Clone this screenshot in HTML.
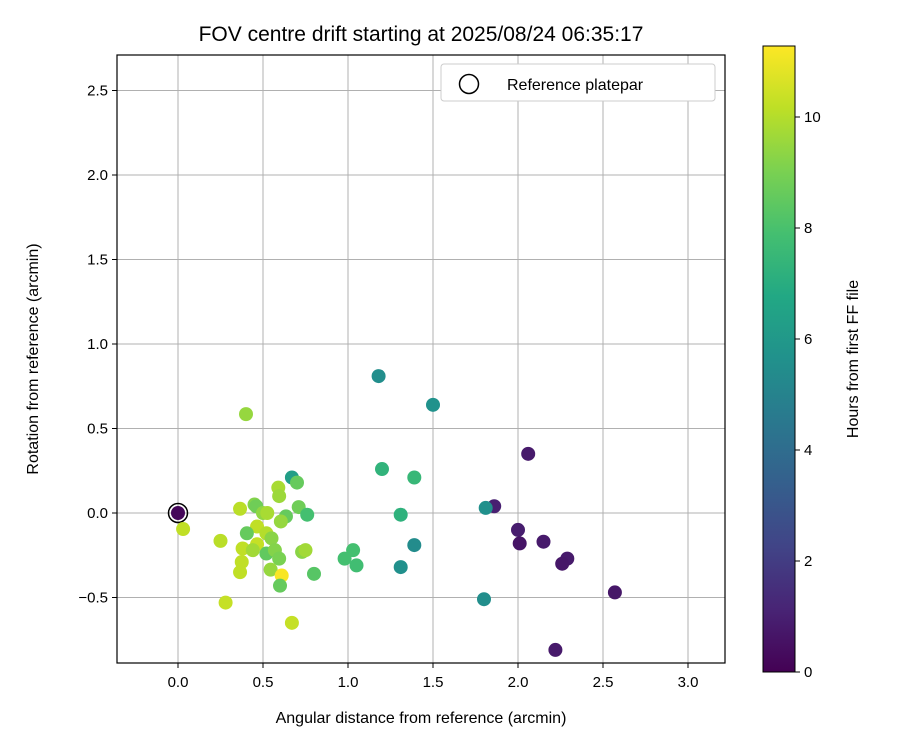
<!DOCTYPE html>
<html><head><meta charset="utf-8"><style>
body{margin:0;background:#fff}
svg text{font-family:"Liberation Sans",sans-serif;fill:#000}
</style></head><body>
<svg id="chart" width="900" height="750" xmlns="http://www.w3.org/2000/svg">
<defs>
<linearGradient id="vir" x1="0" y1="1" x2="0" y2="0">
<stop offset="0" stop-color="#440154"/><stop offset="0.1" stop-color="#482475"/><stop offset="0.2" stop-color="#414487"/><stop offset="0.3" stop-color="#355f8d"/><stop offset="0.4" stop-color="#2a788e"/><stop offset="0.5" stop-color="#21918c"/><stop offset="0.6" stop-color="#22a884"/><stop offset="0.7" stop-color="#44bf70"/><stop offset="0.8" stop-color="#7ad151"/><stop offset="0.9" stop-color="#bddf26"/><stop offset="1" stop-color="#fde725"/>
</linearGradient>
</defs>
<text x="421" y="41" font-size="21" text-anchor="middle">FOV centre drift starting at 2025/08/24 06:35:17</text>
<g id="grid"></g>
<g id="pts"></g>
<rect x="117" y="55" width="608" height="608" fill="none" stroke="#000" stroke-width="1.2"/>
<g id="ticks"></g>
<text x="421" y="723" font-size="16" text-anchor="middle">Angular distance from reference (arcmin)</text>
<text transform="translate(38,359) rotate(-90)" font-size="16" text-anchor="middle">Rotation from reference (arcmin)</text>
<g>
<rect x="441" y="64" width="274" height="37" rx="3" fill="#fff" stroke="#ccc"/>
<circle cx="469" cy="84" r="9.5" fill="none" stroke="#000" stroke-width="1.5"/>
<text x="507" y="90" font-size="16">Reference platepar</text>
</g>
<rect x="763" y="46" width="32" height="626" fill="url(#vir)" stroke="#000" stroke-width="1"/>
<g id="cbticks"></g>
<text transform="translate(858,359) rotate(-90)" font-size="16" text-anchor="middle">Hours from first FF file</text>
</svg>
<script>
const xVals=[1.18,1.50,2.06,1.20,1.39,1.86,1.81,1.31,1.39,2.0,2.01,2.15,1.31,2.29,2.26,1.80,2.57,2.22,1.03,0.98,1.05,
0.03,0.25,0.365,0.45,0.46,0.59,0.595,0.67,0.70,0.50,0.525,0.71,0.76,0.635,0.605,0.465,0.405,0.52,0.55,0.465,0.38,0.44,0.52,0.57,0.595,0.73,0.75,0.375,0.365,0.545,0.61,0.60,0.80,0.28,0.67,0.40,0.0];
const yVals=[0.81,0.64,0.35,0.26,0.21,0.04,0.03,-0.01,-0.19,-0.10,-0.18,-0.17,-0.32,-0.27,-0.30,-0.51,-0.47,-0.81,-0.22,-0.27,-0.31,
-0.095,-0.165,0.025,0.05,0.04,0.15,0.10,0.21,0.18,0.0,0.0,0.035,-0.01,-0.02,-0.05,-0.08,-0.12,-0.12,-0.15,-0.185,-0.21,-0.22,-0.24,-0.22,-0.27,-0.23,-0.22,-0.29,-0.35,-0.335,-0.37,-0.43,-0.36,-0.53,-0.65,0.585,0.0];
const hours=[5.5,5.7,0.8,7.3,7.5,1.0,5.6,7.2,5.4,0.9,0.6,0.8,5.6,0.8,0.7,5.5,0.7,0.8,7.9,7.9,7.8,
10.2,10.1,10.1,9.2,8.8,9.8,9.6,6.3,8.6,9.4,9.8,8.8,7.9,8.6,9.5,10.2,8.6,10.0,9.3,10.3,10.2,9.7,8.5,9.2,9.0,9.3,9.7,10.2,10.2,9.5,11.2,8.6,8.3,10.3,10.3,9.5,0.2];
const xTicks=[0.0,0.5,1.0,1.5,2.0,2.5,3.0];
const yTicks=[-0.5,0.0,0.5,1.0,1.5,2.0,2.5];
const cbTicks=[0,2,4,6,8,10];
const X=v=>178+v*170, Y=v=>513-v*169, C=h=>672-h*55.5;
const stops=["#440154","#482475","#414487","#355f8d","#2a788e","#21918c","#22a884","#44bf70","#7ad151","#bddf26","#fde725"];
function hex(c){return [1,3,5].map(i=>parseInt(c.substr(i,2),16));}
function vir(h){let t=Math.max(0,Math.min(1,h/11.28))*10;let i=Math.min(9,Math.floor(t)),f=t-i;
 const a=hex(stops[i]),b=hex(stops[i+1]);return "rgb("+a.map((v,k)=>Math.round(v+(b[k]-v)*f)).join(",")+")";}
const NS="http://www.w3.org/2000/svg";
const g=document.getElementById('grid'),tk=document.getElementById('ticks'),pts=document.getElementById('pts'),cb=document.getElementById('cbticks');
function mk(tag,at,par){const e=document.createElementNS(NS,tag);for(const k in at)e.setAttribute(k,at[k]);par.appendChild(e);return e;}
xTicks.forEach(v=>{
 const l=mk('line',{x1:X(v),x2:X(v),y1:55,y2:663,stroke:'#b0b0b0','stroke-width':1},g);
 
 
 mk('line',{x1:X(v),x2:X(v),y1:663,y2:668,stroke:'#000'},tk);
 const t=mk('text',{x:X(v),y:687,'font-size':15,'text-anchor':'middle'},tk);t.textContent=v.toFixed(1);
 
 
});
yTicks.forEach(v=>{
 const l=mk('line',{x1:117,x2:725,y1:Y(v),y2:Y(v),stroke:'#b0b0b0','stroke-width':1},g);
 
 
 mk('line',{x1:112,x2:117,y1:Y(v),y2:Y(v),stroke:'#000'},tk);
 const t=mk('text',{x:108,y:Y(v)+5,'font-size':15,'text-anchor':'end'},tk);t.textContent=(v<0?'\u2212':'')+Math.abs(v).toFixed(1);
 
 
});
cbTicks.forEach(v=>{
 mk('line',{x1:795,x2:800,y1:C(v),y2:C(v),stroke:'#000'},cb);
 const t=mk('text',{x:804,y:C(v)+5,'font-size':15},cb);t.textContent=v;
 
 
});
// reference marker
const ref=mk('circle',{cx:X(0),cy:Y(0),r:9.5,fill:'none',stroke:'#000','stroke-width':1.5},pts);


xVals.forEach((x,i)=>{
 const c=mk('circle',{cx:X(x),cy:Y(yVals[i]),r:7,fill:vir(hours[i])},pts);
 
 
});
</script>
</body></html>
